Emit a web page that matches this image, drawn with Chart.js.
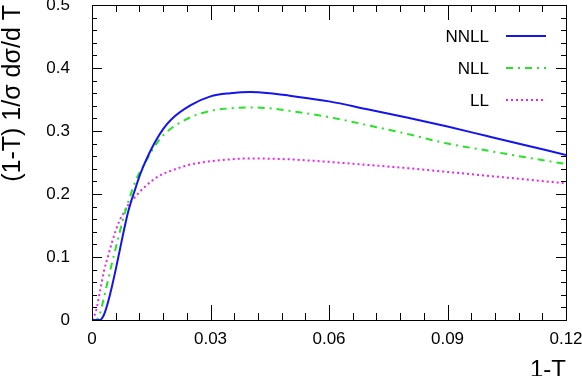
<!DOCTYPE html>
<html>
<head>
<meta charset="utf-8">
<script src="https://cdn.jsdelivr.net/npm/chart.js@4.4.1/dist/chart.umd.min.js"></script>
<style>
  html, body { margin: 0; padding: 0; background: #fff; }
  #wrap { width: 582px; height: 376px; }
</style>
</head>
<body>
<div id="wrap"><canvas id="chart" width="582" height="376"></canvas></div>
<script>
// ---- data ----
const xValues = [0, 0.001, 0.002, 0.003, 0.004, 0.005, 0.006, 0.007, 0.008, 0.009, 0.010,
    0.011, 0.012, 0.013, 0.014, 0.015, 0.016, 0.018, 0.020,
    0.025, 0.030, 0.035, 0.040, 0.045, 0.050,
    0.060, 0.070, 0.080, 0.090, 0.100, 0.110, 0.120];

const nnll = [0, 0, 0, 0.008, 0.027, 0.052, 0.080, 0.110, 0.140, 0.168, 0.190,
    0.209, 0.228, 0.244, 0.258, 0.271, 0.283, 0.303, 0.318,
    0.341, 0.355, 0.360, 0.362, 0.360, 0.356,
    0.347, 0.334, 0.321, 0.307, 0.292, 0.277, 0.262];

const nll = [0, 0, 0.010, 0.035, 0.062, 0.089, 0.114, 0.139, 0.163, 0.184, 0.203,
    0.220, 0.234, 0.245, 0.256, 0.267, 0.277, 0.293, 0.304,
    0.322, 0.332, 0.336, 0.3375, 0.336, 0.332,
    0.322, 0.309, 0.295, 0.280, 0.269, 0.258, 0.2476];

const ll = [0, 0.014, 0.045, 0.077, 0.100, 0.122, 0.142, 0.158, 0.170, 0.181, 0.189,
    0.196, 0.203, 0.209, 0.215, 0.220, 0.225, 0.232, 0.237,
    0.247, 0.252, 0.255, 0.2565, 0.256, 0.255,
    0.251, 0.246, 0.241, 0.235, 0.229, 0.223, 0.217];

const seriesNames = ['NNLL', 'NLL', 'LL'];
const xTicks = [0, 0.03, 0.06, 0.09, 0.12];
const yTicks = [0, 0.1, 0.2, 0.3, 0.4, 0.5];

const FONT = '"Liberation Sans", Arial, Helvetica, sans-serif';

function pts(ys) {
    return xValues.map((x, i) => ({ x: x, y: ys[i] }));
}

// ROOT style frame with ticks pointing inward on all four sides
const frameTicks = {
    id: 'frameTicks',
    afterDraw(chart) {
        const ctx = chart.ctx;
        const a = chart.chartArea;
        const xs = chart.scales.x, ys = chart.scales.y;
        ctx.save();
        ctx.strokeStyle = '#000';
        ctx.lineWidth = 1;
        ctx.strokeRect(Math.round(a.left) + 0.5, Math.round(a.top) + 0.5,
            Math.round(a.right - a.left), Math.round(a.bottom - a.top));
        ctx.beginPath();
        // x ticks: minor every 0.006, major every 0.03
        for (let i = 0; i <= 20; i++) {
            const v = i * 0.006;
            const px = Math.round(xs.getPixelForValue(v)) + 0.5;
            const len = (i % 5 === 0) ? 15 : 7;
            ctx.moveTo(px, a.bottom); ctx.lineTo(px, a.bottom - len);
            ctx.moveTo(px, a.top); ctx.lineTo(px, a.top + len);
        }
        // y ticks: minor every 0.02, major every 0.1
        for (let i = 0; i <= 25; i++) {
            const v = i * 0.02;
            const py = Math.round(ys.getPixelForValue(v)) + 0.5;
            const len = (i % 5 === 0) ? 10 : 5;
            ctx.moveTo(a.left, py); ctx.lineTo(a.left + len, py);
            ctx.moveTo(a.right, py); ctx.lineTo(a.right - len, py);
        }
        ctx.stroke();
        ctx.restore();
    }
};

// legend: label text on the left, line sample on the right
const sideLegend = {
    id: 'sideLegend',
    afterDraw(chart) {
        const ctx = chart.ctx;
        const rows = [36, 68, 100];
        ctx.save();
        ctx.font = '17px ' + FONT;
        ctx.textAlign = 'right';
        ctx.textBaseline = 'middle';
        chart.data.datasets.forEach((ds, i) => {
            const y = rows[i];
            ctx.fillStyle = '#000';
            ctx.fillText(ds.label, 489, y + 1);
            ctx.strokeStyle = ds.borderColor;
            ctx.lineWidth = ds.borderWidth;
            ctx.setLineDash(ds.borderDash || []);
            ctx.beginPath();
            ctx.moveTo(506, y); ctx.lineTo(546, y);
            ctx.stroke();
        });
        ctx.restore();
    }
};

new Chart(document.getElementById('chart'), {
    type: 'line',
    data: {
        datasets: [
            { label: seriesNames[0], data: pts(nnll), borderColor: '#1414f0', borderWidth: 2, borderDash: [] },
            { label: seriesNames[1], data: pts(nll), borderColor: '#22e622', borderWidth: 2, borderDash: [7, 5, 2, 5] },
            { label: seriesNames[2], data: pts(ll), borderColor: '#f020f0', borderWidth: 2, borderDash: [2, 3] }
        ]
    },
    options: {
        responsive: false,
        animation: false,
        devicePixelRatio: 1,
        layout: { padding: { top: 5, right: 16, left: 0, bottom: 0 } },
        elements: {
            point: { radius: 0 },
            line: { cubicInterpolationMode: 'monotone', fill: false }
        },
        plugins: { legend: { display: false }, tooltip: { enabled: false } },
        scales: {
            x: {
                type: 'linear',
                min: 0, max: 0.12,
                afterBuildTicks: s => { s.ticks = xTicks.map(v => ({ value: v })); },
                afterFit: s => { s.height = 56; s.paddingLeft = 0; s.paddingRight = 0; },
                grid: { drawOnChartArea: false, drawTicks: false },
                border: { display: false },
                ticks: {
                    padding: 9,
                    maxRotation: 0,
                    color: '#000',
                    font: { family: FONT, size: 17 },
                    callback: v => String(+v.toFixed(2))
                },
                title: {
                    display: true, text: '1-T', align: 'end', color: '#000',
                    font: { family: FONT, size: 24, lineHeight: 0.46 }, padding: { top: 0, bottom: 0 }
                }
            },
            y: {
                type: 'linear',
                min: 0, max: 0.5,
                afterBuildTicks: s => { s.ticks = yTicks.map(v => ({ value: v })); },
                afterFit: s => { s.width = 92; s.paddingTop = 0; s.paddingBottom = 0; },
                grid: { drawOnChartArea: false, drawTicks: false },
                border: { display: false },
                ticks: {
                    padding: 22,
                    color: '#000',
                    font: { family: FONT, size: 17 },
                    callback: v => String(+v.toFixed(1))
                },
                title: {
                    display: true, text: '(1-T) 1/σ dσ/d T', align: 'end', color: '#000',
                    font: { family: FONT, size: 25, lineHeight: 1.05 }, padding: { top: 0, bottom: 0 }
                }
            }
        }
    },
    plugins: [frameTicks, sideLegend]
});
</script>
</body>
</html>
